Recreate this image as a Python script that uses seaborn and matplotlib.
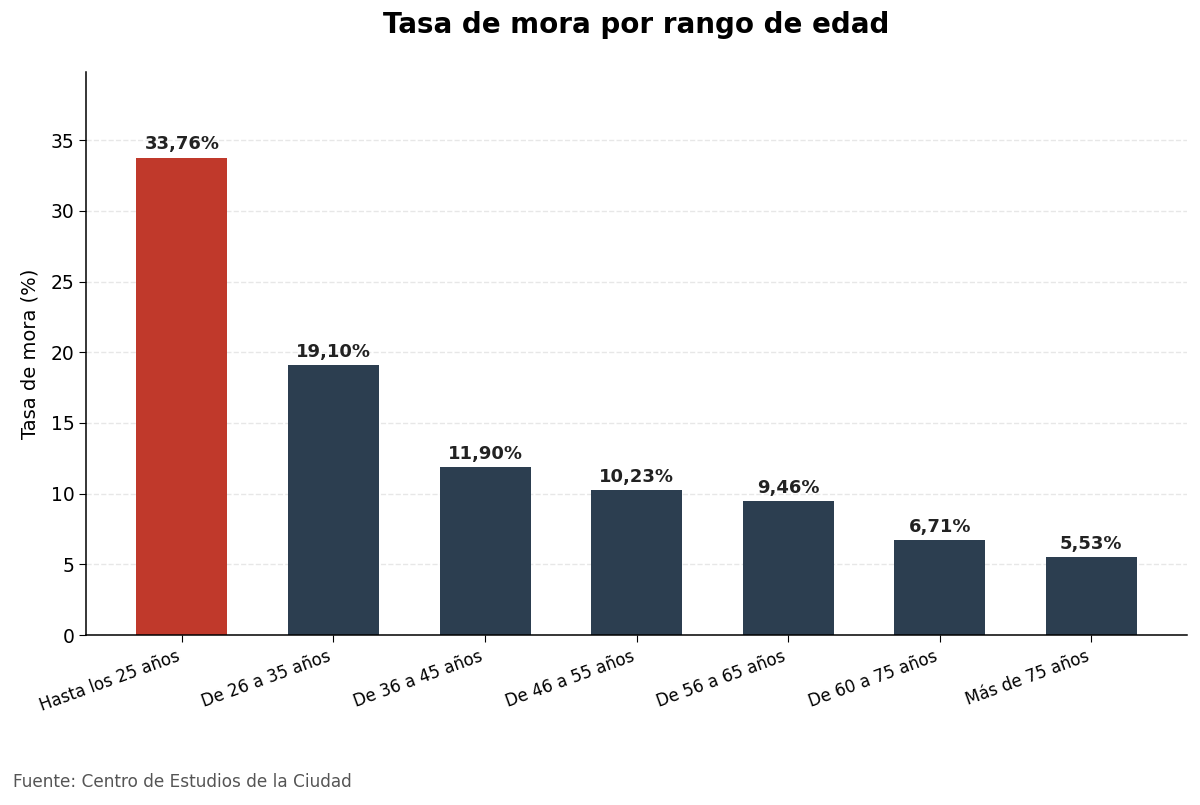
import matplotlib
matplotlib.use("Agg")
import matplotlib.pyplot as plt
import seaborn as sns
import pandas as pd

# Data
rangos = ['Hasta los 25 años', 'De 26 a 35 años', 'De 36 a 45 años', 'De 46 a 55 años',
          'De 56 a 65 años', 'De 60 a 75 años', 'Más de 75 años']
tasas = [33.76, 19.10, 11.90, 10.23, 9.46, 6.71, 5.53]
colores = ['#c0392b', '#2c3e50', '#2c3e50', '#2c3e50', '#2c3e50', '#2c3e50', '#2c3e50']

df = pd.DataFrame({'rango': rangos, 'tasa': tasas})

sns.set_style('white')
plt.rcParams['font.family'] = ['DejaVu Sans']
plt.rcParams['text.color'] = 'black'
plt.rcParams['axes.labelcolor'] = 'black'
plt.rcParams['xtick.color'] = 'black'
plt.rcParams['ytick.color'] = 'black'

fig, ax = plt.subplots(figsize=(12, 8.05), dpi=100)
fig.subplots_adjust(left=0.072, right=0.989, top=0.911, bottom=0.211)

sns.barplot(data=df, x='rango', y='tasa', hue='rango', palette=colores,
            width=0.6, legend=False, ax=ax, saturation=1, linewidth=0)

for i, v in enumerate(tasas):
    ax.text(i, v + 0.3, f'{v:.2f}%'.replace('.', ','), ha='center', va='bottom',
            fontsize=13, fontweight='bold', color='#222222')

ax.set_xlim(-0.63, 6.63)
ax.set_ylim(0, max(tasas) * 1.18)
ax.set_yticks([0, 5, 10, 15, 20, 25, 30, 35])
ax.yaxis.grid(True, linestyle='--', color='#dddddd', alpha=0.7, linewidth=1)
ax.set_axisbelow(True)
sns.despine(ax=ax)
for s in ['left', 'bottom']:
    ax.spines[s].set_color('black')
    ax.spines[s].set_linewidth(1.1)

ax.tick_params(axis='both', which='both', length=5, color='black', bottom=True, left=True)
ax.tick_params(axis='y', labelsize=13.5)
ax.tick_params(axis='x', labelsize=12)
plt.setp(ax.get_xticklabels(), rotation=20, ha='right')

ax.set_xlabel('')
ax.set_ylabel('Tasa de mora (%)', fontsize=14, labelpad=8)
ax.set_title('Tasa de mora por rango de edad', fontsize=20, fontweight='bold', pad=28, color='black')

fig.text(0.011, 0.022, 'Fuente: Centro de Estudios de la Ciudad', fontsize=12.2, color='#555555')

fig.savefig('out.png', dpi=100)
